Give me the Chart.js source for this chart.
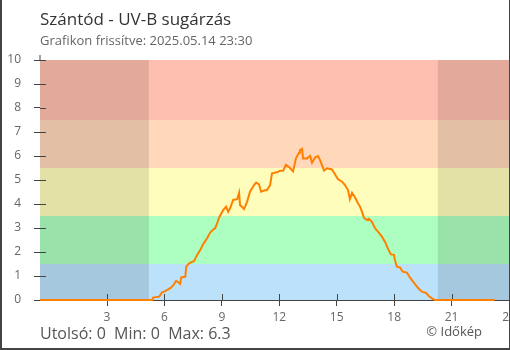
<!DOCTYPE html>
<html>
<head>
<meta charset="utf-8">
<script src="https://cdn.jsdelivr.net/npm/chart.js@4"></script>
<style>
  html, body { margin: 0; padding: 0; background: #fff; }
  #wrap { position: relative; width: 510px; height: 350px; }
</style>
</head>
<body>
<div id="wrap"><canvas id="uvChart" width="510" height="350"></canvas></div>
<script>
// UV-B readings, time in hours since midnight (negative = previous evening)
const uvHours = [
  -0.5, 5.36, 5.41, 5.73, 5.88, 6.04, 6.30, 6.46, 6.61, 6.72,
  6.82, 6.88, 7.09, 7.14, 7.29, 7.55, 7.71, 7.87, 8.02, 8.23,
  8.39, 8.55, 8.65, 8.75, 8.86, 9.07, 9.22, 9.33, 9.43, 9.59,
  9.80, 9.90, 9.95, 10.16, 10.32, 10.47, 10.68, 10.79, 10.94, 11.05,
  11.20, 11.36, 11.52, 11.62, 11.88, 12.04, 12.20, 12.35, 12.56, 12.72,
  12.87, 13.03, 13.08, 13.19, 13.24, 13.45, 13.61, 13.71, 13.87, 14.02,
  14.13, 14.34, 14.49, 14.75, 14.91, 15.07, 15.28, 15.43, 15.59, 15.69,
  15.80, 15.95, 16.11, 16.21, 16.31, 16.42, 16.58, 16.68, 16.84, 17.00,
  17.20, 17.36, 17.52, 17.67, 17.83, 17.99, 18.04, 18.14, 18.30, 18.45,
  18.67, 18.82, 19.03, 19.24, 19.45, 19.66, 19.81, 19.97, 20.13, 23.25
];
const uvValues = [
  0, 0, 0.1, 0.14, 0.32, 0.37, 0.49, 0.61, 0.8, 0.74,
  0.67, 0.94, 0.97, 1.39, 1.53, 1.63, 1.88, 2.08, 2.32, 2.57,
  2.81, 2.94, 2.99, 3.19, 3.44, 3.75, 3.89, 3.68, 3.82, 4.17,
  4.2, 4.47, 3.96, 3.79, 4.1, 4.51, 4.79, 4.89, 4.82, 4.51,
  4.56, 4.58, 4.79, 5.28, 5.32, 5.39, 5.39, 5.63, 5.5, 5.36,
  5.9, 6.14, 6.25, 6.3, 5.9, 5.9, 6.0, 5.72, 5.94, 6.0,
  5.83, 5.39, 5.49, 5.44, 5.24, 5.03, 4.93, 4.79, 4.58, 4.2,
  4.47, 4.28, 4.03, 3.9, 3.7, 3.43, 3.33, 3.38, 3.26, 2.99,
  2.81, 2.64, 2.43, 2.15, 1.9, 1.88, 1.67, 1.39, 1.36, 1.18,
  1.14, 0.94, 0.72, 0.51, 0.35, 0.3, 0.17, 0.07, 0, 0
];

// background UV bands: [from, to, colour]
const bandFrom = [0, 1.5, 3.5, 5.5, 7.5];
const bandTo = [1.5, 3.5, 5.5, 7.5, 10];
const bandColors = ['#bbe1fb', '#acffc0', '#fffdbb', '#ffd7bb', '#ffbfb0'];

// night periods (hours)
const nightStart = [-0.5, 20.28];
const nightEnd = [5.19, 24];

const xTicks = [3, 6, 9, 12, 15, 18, 21, 24];
const yTicks = [0, 1, 2, 3, 4, 5, 6, 7, 8, 9, 10];

const titleText = 'Szántód - UV-B sugárzás';
const subtitleText = 'Grafikon frissítve: 2025.05.14 23:30';
const creditText = '© Időkép';

const FONT = '"Open Sans", "Noto Sans", sans-serif';
const AXIS_COLOR = '#444';

const lastVal = uvValues[uvValues.length - 1];
const minVal = Math.min(...uvValues);
const maxVal = Math.max(...uvValues);

const bandsPlugin = {
  id: 'bands',
  beforeDatasetsDraw(chart) {
    const { ctx, chartArea: a, scales: { x, y } } = chart;
    ctx.save();
    for (let i = 0; i < bandFrom.length; i++) {
      const top = y.getPixelForValue(bandTo[i]);
      const bot = y.getPixelForValue(bandFrom[i]);
      ctx.fillStyle = bandColors[i];
      ctx.fillRect(a.left, top, a.right - a.left, bot - top);
    }
    ctx.fillStyle = 'rgba(0,0,0,0.11)';
    for (let i = 0; i < nightStart.length; i++) {
      const l = x.getPixelForValue(nightStart[i]);
      const r = x.getPixelForValue(nightEnd[i]);
      ctx.fillRect(l, a.top, r - l, a.bottom - a.top);
    }
    // inner halves of tick marks + axis stub above the top
    ctx.strokeStyle = AXIS_COLOR;
    ctx.lineWidth = 1;
    ctx.beginPath();
    yTicks.forEach(v => {
      const py = Math.round(y.getPixelForValue(v)) + 0.5;
      ctx.moveTo(a.left, py); ctx.lineTo(a.left + 6, py);
    });
    xTicks.forEach(v => {
      const px = Math.round(x.getPixelForValue(v)) + 0.5;
      ctx.moveTo(px, a.bottom); ctx.lineTo(px, a.bottom - 6);
    });
    ctx.moveTo(a.left, a.top); ctx.lineTo(a.left, a.top - 5);
    ctx.stroke();
    ctx.restore();
  },
  afterDraw(chart) {
    const { ctx } = chart;
    ctx.save();
    ctx.textBaseline = 'alphabetic';
    ctx.textAlign = 'left';
    ctx.fillStyle = '#333';
    ctx.font = '17px ' + FONT;
    ctx.fillText(titleText, 40, 25);
    ctx.fillStyle = '#666';
    ctx.font = '13px ' + FONT;
    ctx.fillText(subtitleText, 40, 45);
    ctx.fillStyle = '#555';
    ctx.font = '16px ' + FONT;
    ctx.fillText('Utolsó: ' + lastVal + '  Min: ' + minVal + '  Max: ' + maxVal, 40, 339);
    ctx.textAlign = 'right';
    ctx.font = '13px ' + FONT;
    ctx.fillText(creditText, 482, 336);

    // outer frame
    ctx.fillStyle = AXIS_COLOR;
    ctx.fillRect(0, 0, 2, 350);
    ctx.fillRect(0, 348, 510, 2);
    ctx.fillRect(509, 0, 1, 350);
    ctx.restore();
  }
};

new Chart(document.getElementById('uvChart').getContext('2d'), {
  type: 'line',
  data: {
    datasets: [{
      label: 'UV-B',
      data: uvHours.map((h, i) => ({ x: h, y: uvValues[i] })),
      borderColor: '#ff8000',
      borderWidth: 2,
      pointRadius: 0,
      tension: 0,
      fill: false,
      clip: 4
    }]
  },
  options: {
    responsive: false,
    animation: false,
    layout: { padding: { top: 60, right: 1, bottom: 0, left: 0 } },
    plugins: { legend: { display: false }, tooltip: { enabled: false } },
    scales: {
      x: {
        type: 'linear',
        min: -0.5,
        max: 24,
        afterBuildTicks: (scale) => { scale.ticks = xTicks.map(v => ({ value: v })); },
        afterFit: (scale) => { scale.height = 50; scale.paddingLeft = 0; scale.paddingRight = 0; },
        grid: { display: true, drawOnChartArea: false, drawTicks: true, tickLength: 6, color: AXIS_COLOR },
        border: { display: true, color: AXIS_COLOR, width: 1 },
        ticks: { autoSkip: false, maxRotation: 0, padding: 4, color: '#666', font: { family: FONT, size: 12 } }
      },
      y: {
        min: 0,
        max: 10,
        afterBuildTicks: (scale) => { scale.ticks = yTicks.map(v => ({ value: v })); },
        afterFit: (scale) => { scale.width = 40; },
        grid: { display: true, drawOnChartArea: false, drawTicks: true, tickLength: 6, color: AXIS_COLOR },
        border: { display: true, color: AXIS_COLOR, width: 1 },
        ticks: { padding: 13, color: '#666', font: { family: FONT, size: 12 } }
      }
    }
  },
  plugins: [bandsPlugin]
});
</script>
</body>
</html>
